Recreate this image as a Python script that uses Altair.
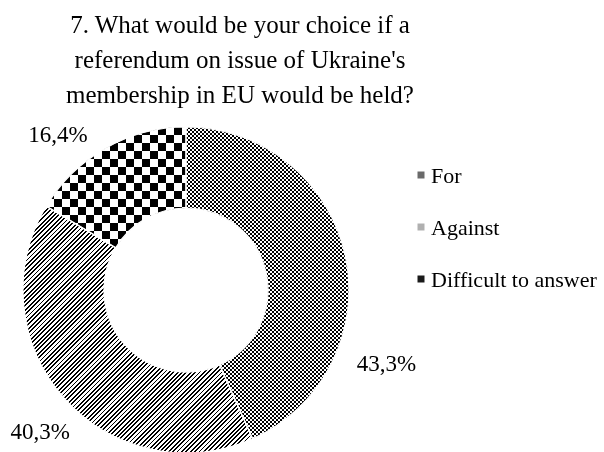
import math
import pandas as pd
import altair as alt

# ---- data ----
categories = ["For", "Against", "Difficult to answer"]
values = [43.3, 40.3, 16.4]
labels = ["43,3%", "40,3%", "16,4%"]
title_lines = ["7. What would be your choice if a",
               "referendum on issue of Ukraine's",
               "membership in EU would be held?"]

# ---- layout / style ----
W, H = 604, 452
CX, CY = 186, 290
R_OUT, R_IN = 163, 82
FONT = "Liberation Serif"

df = pd.DataFrame({"cat": categories, "value": values, "label": labels,
                   "idx": list(range(len(categories)))})

theta_scale = alt.Scale(domain=[0, 1], range=[0, 2 * math.pi])

base = (alt.Chart(df)
        .transform_joinaggregate(total="sum(value)")
        .transform_window(cum="sum(value)", sort=[alt.SortField("idx")], frame=[None, 0])
        .transform_calculate(t1="datum.cum / datum.total",
                             t0="(datum.cum - datum.value) / datum.total",
                             tm="(datum.cum - datum.value / 2) / datum.total"))


def arc_bbox(f0, f1):
    a0, a1 = f0 * 2 * math.pi, f1 * 2 * math.pi
    pts = []
    for a in (a0, a1):
        for r in (R_OUT, R_IN):
            pts.append((CX + r * math.sin(a), CY - r * math.cos(a)))
    for k in range(5):
        a = k * math.pi / 2
        if a0 < a < a1:
            pts.append((CX + R_OUT * math.sin(a), CY - R_OUT * math.cos(a)))
    xs = [p[0] for p in pts]
    ys = [p[1] for p in pts]
    return min(xs), min(ys), max(xs) - min(xs), max(ys) - min(ys)


def band_stops(n, pattern):
    stops = []
    for i in range(n):
        pos = 0.0
        for frac, col in pattern:
            a = (i + pos) / n
            b = (i + pos + frac) / n
            stops.append(alt.GradientStop(offset=round(a, 6), color=col))
            stops.append(alt.GradientStop(offset=round(b, 6), color=col))
            pos += frac
    return stops


def grad_vertical_bands(w, cell, c1, c2):
    n = math.ceil(w / (2 * cell))
    return alt.LinearGradient(gradient="linear",
                              stops=band_stops(n, [(0.5, c1), (0.5, c2)]),
                              x1=0, y1=0, x2=n * 2 * cell / w, y2=0)


def grad_horizontal_bands(h, cell, c1, c2):
    n = math.ceil(h / (2 * cell))
    return alt.LinearGradient(gradient="linear",
                              stops=band_stops(n, [(0.5, c1), (0.5, c2)]),
                              x1=0, y1=0, x2=0, y2=n * 2 * cell / h)


def grad_diagonal(w, h, period, frac_dark, dark, light):
    D = (w + h) / math.sqrt(2)
    M = math.ceil(D / period)
    c = (w + h) * (M * period) / (D * (w * w + h * h))
    return alt.LinearGradient(gradient="linear",
                              stops=band_stops(M, [(frac_dark, dark), (1 - frac_dark, light)]),
                              x1=0, y1=0, x2=c * w, y2=c * h)


total = sum(values)
fr = []
acc = 0
for v in values:
    fr.append((acc / total, (acc + v) / total))
    acc += v

layers = []


def slice_layer(cat, fill, blend=None):
    kw = dict(outerRadius=R_OUT, innerRadius=R_IN, fill=fill, strokeWidth=0)
    if blend:
        kw["blend"] = blend
    return (base.transform_filter(alt.datum.cat == cat)
            .mark_arc(**kw)
            .encode(theta=alt.Theta("t0:Q", scale=theta_scale),
                    theta2="t1:Q",
                    x=alt.value(CX), y=alt.value(CY)))


TRANSP = "rgba(255,255,255,0)"

# For: fine checker
x0, y0, w, h = arc_bbox(*fr[0])
layers.append(slice_layer(categories[0], grad_horizontal_bands(h, 2, "#000000", "#ffffff")))
layers.append(slice_layer(categories[0], grad_vertical_bands(w, 2, "#ffffff", TRANSP), "difference"))

# Against: diagonal stripes
x0, y0, w, h = arc_bbox(*fr[1])
layers.append(slice_layer(categories[1], grad_diagonal(w, h, 3.1, 0.42, "#000000", "#ffffff")))

# Difficult: coarse checker
x0, y0, w, h = arc_bbox(*fr[2])
layers.append(slice_layer(categories[2], grad_horizontal_bands(h, 8, "#000000", "#ffffff")))
layers.append(slice_layer(categories[2], grad_vertical_bands(w, 8, TRANSP, "#ffffff"), "difference"))

# white separators
layers.append(base.mark_arc(outerRadius=R_OUT, innerRadius=R_IN, fillOpacity=0,
                            stroke="white", strokeWidth=1.2)
              .encode(theta=alt.Theta("t0:Q", scale=theta_scale), theta2="t1:Q",
                      x=alt.value(CX), y=alt.value(CY)))

# percentage labels
label_offsets = {categories[0]: (2, 116), categories[1]: (6, 7), categories[2]: (-28, 22)}
for cat in categories:
    dx, dy = label_offsets[cat]
    layers.append(base.transform_filter(alt.datum.cat == cat)
                  .mark_text(radius=203, font=FONT, fontSize=23, color="black",
                             align="center", baseline="middle", dx=dx, dy=dy)
                  .encode(theta=alt.Theta("tm:Q", scale=theta_scale),
                          x=alt.value(CX), y=alt.value(CY), text="label:N"))

# legend
leg_y = alt.Y("cat:N", scale=alt.Scale(type="point", domain=categories, range=[175, 279], padding=0),
              axis=None)
leg_colors = alt.Color("cat:N", scale=alt.Scale(domain=categories,
                                                range=["#6a6a6a", "#b0b0b0", "#1a1a1a"]),
                       legend=None)
layers.append(alt.Chart(df).mark_square(size=49, opacity=1)
              .encode(x=alt.value(421), y=leg_y, color=leg_colors))
layers.append(alt.Chart(df).mark_text(font=FONT, fontSize=22, align="left", baseline="middle",
                                      color="black", dy=1)
              .encode(x=alt.value(431), y=leg_y, text="cat:N"))

# title
layers.append(alt.Chart(pd.DataFrame({"t": [0]})).mark_text(
    font=FONT, fontSize=25, align="center", baseline="alphabetic", lineHeight=35, color="black")
    .encode(x=alt.value(240), y=alt.value(33), text=alt.value(title_lines)))

chart = (alt.layer(*layers)
         .properties(width=W, height=H, padding=0,
                     autosize=alt.AutoSizeParams(type="none"))
         .configure_view(stroke=None))

chart.save("out.html", embed_options={"renderer": "svg", "actions": False})
